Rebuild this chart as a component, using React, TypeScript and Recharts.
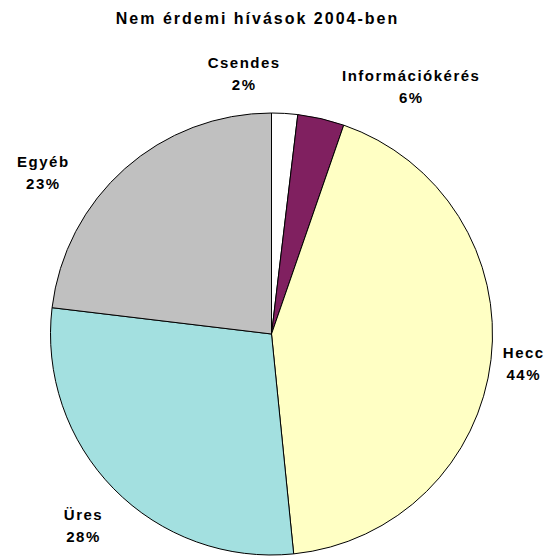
import React from "react";
import { PieChart, Pie, Cell } from "recharts";

const TITLE = "Nem érdemi hívások 2004-ben";
const categories = ["Csendes", "Információkérés", "Hecc", "Üres", "Egyéb"];
const values = [1.9, 3.4, 43.1, 28.5, 23.1];
const percentLabels = ["2%", "6%", "44%", "28%", "23%"];
const colors = ["#FFFFFF", "#802060", "#FFFFC4", "#A3E0E0", "#C0C0C0"];

// label placement: angular shift (deg, clockwise) and distance beyond rim
const labelShift = [-9.4, 16.4, 0, -1, -13];
const labelGap = [41, 64, 33, 47, 59];

const data = categories.map((name, i) => ({ name, value: values[i] }));

const FONT = "'Liberation Sans', Arial, Helvetica, sans-serif";

const renderLabel = (props: any) => {
  const { cx, cy, midAngle, outerRadius, index } = props;
  const theta = ((90 - midAngle + labelShift[index]) * Math.PI) / 180;
  const r = outerRadius + labelGap[index];
  const x = cx + r * Math.sin(theta);
  const y = cy - r * Math.cos(theta);
  return (
    <text
      x={x}
      y={y}
      textAnchor="middle"
      fontFamily={FONT}
      fontWeight="bold"
      fontSize={15}
      fill="#000"
      style={{ letterSpacing: "1.5px" }}
    >
      <tspan x={x} dy={-5}>{categories[index]}</tspan>
      <tspan x={x} dy={22}>{percentLabels[index]}</tspan>
    </text>
  );
};

export default function App() {
  return (
    <div style={{ position: "absolute", left: 0, top: 0, width: 552, height: 556, background: "#fff" }}>
      <div
        style={{
          position: "absolute",
          left: 0,
          top: 9,
          width: 515,
          textAlign: "center",
          fontFamily: FONT,
          fontWeight: "bold",
          fontSize: 16,
          letterSpacing: "2px",
          color: "#000",
          lineHeight: "20px",
        }}
      >
        {TITLE}
      </div>
      <PieChart width={552} height={556} margin={{ top: 0, right: 0, bottom: 0, left: 0 }}>
        <Pie
          data={data}
          dataKey="value"
          nameKey="name"
          cx={271.5}
          cy={334}
          outerRadius={221}
          startAngle={90}
          endAngle={-270}
          stroke="#000"
          strokeWidth={1}
          isAnimationActive={false}
          label={renderLabel}
          labelLine={false}
        >
          {data.map((d, i) => (
            <Cell key={d.name} fill={colors[i]} />
          ))}
        </Pie>
      </PieChart>
    </div>
  );
}
